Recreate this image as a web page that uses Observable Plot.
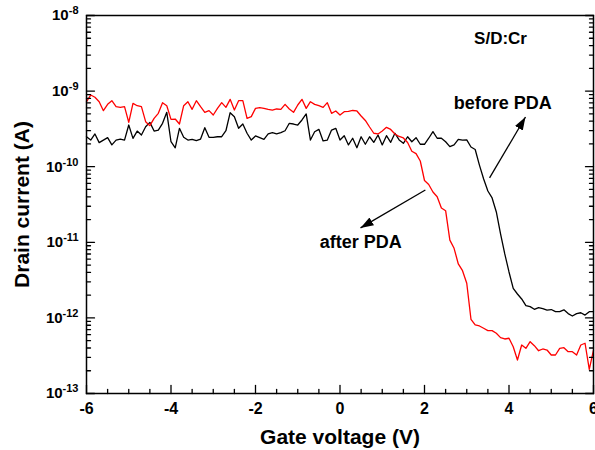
<!DOCTYPE html>
<html><head><meta charset="utf-8">
<script src="https://cdn.jsdelivr.net/npm/d3@7"></script>
<script src="https://cdn.jsdelivr.net/npm/@observablehq/plot@0.6"></script>
<style>body{margin:0;background:#fff}</style>
</head><body><div id="chart"></div>
<script>
const gateVoltage = [
-6,-5.9,-5.8,-5.7,-5.6,-5.5,-5.4,-5.3,-5.2,-5.1,
-5,-4.9,-4.8,-4.7,-4.6,-4.5,-4.4,-4.3,-4.2,-4.1,
-4,-3.9,-3.8,-3.7,-3.6,-3.5,-3.4,-3.3,-3.2,-3.1,
-3,-2.9,-2.8,-2.7,-2.6,-2.5,-2.4,-2.3,-2.2,-2.1,
-2,-1.9,-1.8,-1.7,-1.6,-1.5,-1.4,-1.3,-1.2,-1.1,
-1,-0.9,-0.8,-0.7,-0.6,-0.5,-0.4,-0.3,-0.2,-0.1,
0,0.1,0.2,0.3,0.4,0.5,0.6,0.7,0.8,0.9,
1,1.1,1.2,1.3,1.4,1.5,1.6,1.7,1.8,1.9,
2,2.1,2.2,2.3,2.4,2.5,2.6,2.7,2.8,2.9,
3,3.1,3.2,3.3,3.4,3.5,3.6,3.7,3.8,3.9,
4,4.1,4.2,4.3,4.4,4.5,4.6,4.7,4.8,4.9,
5,5.1,5.2,5.3,5.4,5.5,5.6,5.7,5.8,5.9,
6];

// Drain current before PDA (black), A
const beforePDA = [
2.49e-10,2.25e-10,2.71e-10,2.08e-10,2.25e-10,2.42e-10,1.94e-10,2.25e-10,2.32e-10,2.25e-10,
3.56e-10,2.37e-10,2.96e-10,2.62e-10,3.38e-10,3.86e-10,2.96e-10,3.05e-10,3.75e-10,5.24e-10,
2.14e-10,1.78e-10,3.22e-10,2.45e-10,2.25e-10,2.30e-10,2.21e-10,2.32e-10,3.28e-10,2.45e-10,
2.45e-10,2.49e-10,2.49e-10,2.99e-10,5.18e-10,4.59e-10,3.22e-10,3.67e-10,2.77e-10,2.25e-10,
2.55e-10,2.42e-10,2.30e-10,2.71e-10,2.82e-10,2.71e-10,2.82e-10,2.99e-10,3.75e-10,3.67e-10,
3.56e-10,4.15e-10,4.99e-10,2.25e-10,2.90e-10,3.12e-10,2.19e-10,2.25e-10,3.05e-10,3.22e-10,
2.25e-10,
2.57e-10,1.94e-10,2.38e-10,1.78e-10,2.49e-10,1.98e-10,2.49e-10,2.10e-10,2.63e-10,1.94e-10,
2.57e-10,2.10e-10,2.77e-10,2.26e-10,2.04e-10,2.49e-10,2.14e-10,2.42e-10,1.98e-10,1.98e-10,
2.38e-10,2.91e-10,2.38e-10,2.38e-10,2.14e-10,1.84e-10,1.94e-10,2.30e-10,2.24e-10,2.26e-10,
1.82e-10,1.69e-10,1.05e-10,6.88e-11,4.77e-11,3.86e-11,2.52e-11,1.29e-11,7.01e-12,4.05e-12,
2.46e-12,2.07e-12,1.78e-12,1.45e-12,1.41e-12,1.30e-12,1.37e-12,1.33e-12,1.27e-12,1.29e-12,
1.21e-12,1.21e-12,1.28e-12,1.14e-12,1.06e-12,1.14e-12,1.17e-12,1.09e-12,1.21e-12,1.21e-12];

// Drain current after PDA (red), A
const afterPDA = [
7.24e-10,8.87e-10,8.28e-10,7.24e-10,5.51e-10,6.68e-10,7.46e-10,6.22e-10,6.10e-10,6.22e-10,
3.86e-10,6.88e-10,6.41e-10,6.22e-10,3.94e-10,3.49e-10,4.36e-10,5.08e-10,7.03e-10,6.41e-10,
4.23e-10,4.27e-10,3.67e-10,6.41e-10,7.24e-10,5.74e-10,7.46e-10,6.22e-10,5.24e-10,5.51e-10,
4.83e-10,5.91e-10,7.03e-10,6.10e-10,7.78e-10,5.62e-10,7.46e-10,7.46e-10,4.36e-10,4.59e-10,
5.91e-10,6.04e-10,5.91e-10,5.74e-10,5.62e-10,5.80e-10,5.74e-10,6.68e-10,5.80e-10,5.24e-10,
6.55e-10,7.78e-10,5.91e-10,7.24e-10,6.68e-10,6.41e-10,6.10e-10,7.03e-10,5.08e-10,5.45e-10,
4.83e-10,5.35e-10,
5.38e-10,5.54e-10,5.46e-10,4.69e-10,4.09e-10,3.35e-10,2.77e-10,2.71e-10,2.97e-10,
3.32e-10,3.11e-10,2.71e-10,2.51e-10,2.40e-10,2.09e-10,1.60e-10,1.49e-10,1.19e-10,6.57e-11,
5.82e-11,4.63e-11,4.01e-11,2.84e-11,2.62e-11,1.07e-11,8.33e-12,5.17e-12,4.21e-12,2.87e-12,
9.59e-13,8.06e-13,7.82e-13,7.29e-13,6.78e-13,6.78e-13,6.26e-13,5.48e-13,5.26e-13,5.38e-13,
4.16e-13,2.77e-13,4.38e-13,3.96e-13,4.85e-13,4.29e-13,3.68e-13,3.88e-13,3.76e-13,3.23e-13,
3.23e-13,3.96e-13,4.04e-13,3.57e-13,3.57e-13,3.23e-13,4.38e-13,4.62e-13,2.09e-13,3.76e-13];

const xMajorTicks = [-6, -4, -2, 0, 2, 4, 6];
const xMinorTicks = [-5.5,-5,-4.5,-3.5,-3,-2.5,-1.5,-1,-0.5,0.5,1,1.5,2.5,3,3.5,4.5,5,5.5];
const yDecades = [-13, -12, -11, -10, -9, -8];
const yMinorMantissas = [2, 3, 4, 5, 6, 7, 8, 9];
const seriesNames = ["before PDA", "after PDA"];
const annotationTexts = ["S/D:Cr", "before PDA", "after PDA"];

const yMajorTicks = yDecades.map(e => Math.pow(10, e));
const yMinorTicks = yDecades.slice(0, -1).flatMap(e => yMinorMantissas.map(m => m * Math.pow(10, e)));

const rows = gateVoltage.flatMap((v, i) => [
  {v, I: beforePDA[i], s: seriesNames[0]},
  {v, I: afterPDA[i], s: seriesNames[1]}
]);

const tickShape = {draw(ctx, l) { ctx.moveTo(0, 0); ctx.lineTo(0, -l); }};
const tk = (data, opts) => Plot.vector(data, {anchor: "start", shape: tickShape, stroke: "black", strokeWidth: 1.3, ...opts});

function solidHead(color) {
  const ns = "http://www.w3.org/2000/svg";
  const m = document.createElementNS(ns, "marker");
  m.setAttribute("viewBox", "-13 -5 13 10");
  m.setAttribute("markerWidth", "13");
  m.setAttribute("markerHeight", "10");
  m.setAttribute("markerUnits", "userSpaceOnUse");
  m.setAttribute("orient", "auto");
  m.setAttribute("refX", "0");
  m.setAttribute("refY", "0");
  const p = document.createElementNS(ns, "path");
  p.setAttribute("d", "M-13,-4.5L0,0L-13,4.5Z");
  p.setAttribute("fill", color);
  p.setAttribute("stroke", "none");
  m.appendChild(p);
  return m;
}

const chart = Plot.plot({
  width: 595,
  height: 450,
  marginLeft: 86,
  marginRight: 2,
  marginTop: 15,
  marginBottom: 57,
  style: {fontFamily: "'Liberation Sans', Arial, sans-serif", fontWeight: "bold", fontSize: "14px", background: "white", color: "black", overflow: "visible"},
  x: {domain: [-6, 6]},
  y: {type: "log", domain: [1e-13, 1e-8]},
  color: {domain: seriesNames, range: ["black", "#ff0000"]},
  marks: [
    Plot.line(rows, {x: "v", y: "I", z: "s", stroke: "s", strokeWidth: 1.3}),
    Plot.frame({stroke: "black", strokeWidth: 1.5}),
    tk(xMajorTicks, {x: d => d, y: 1e-13, length: 8, rotate: 0}),
    tk(xMinorTicks, {x: d => d, y: 1e-13, length: 4, rotate: 0}),
    tk(yMajorTicks, {x: -6, y: d => d, length: 8, rotate: 90}),
    tk(yMinorTicks, {x: -6, y: d => d, length: 4, rotate: 90}),
    tk(yMajorTicks, {x: 6, y: d => d, length: 8, rotate: -90}),
    tk(yMinorTicks, {x: 6, y: d => d, length: 4, rotate: -90}),
    Plot.axisX(xMajorTicks, {tickSize: 0, tickPadding: 9, tickFormat: d => String(d), fontSize: 16, label: null}),
    Plot.axisY(yMajorTicks, {tickSize: 0, tickPadding: 8, tickFormat: d => "10^" + Math.round(Math.log10(d)), fontSize: 15, label: null}),
    Plot.text(["Gate voltage (V)"], {frameAnchor: "bottom", lineAnchor: "middle", textAnchor: "middle", dy: 44, fontSize: 21}),
    Plot.text(["Drain current (A)"], {frameAnchor: "left", lineAnchor: "middle", textAnchor: "middle", dx: -64, rotate: -90, fontSize: 21}),
    Plot.text([annotationTexts[0]], {x: 3.8, y: 5e-9, fontSize: 17}),
    Plot.text([annotationTexts[1]], {x: 3.85, y: 6.96e-10, fontSize: 18}),
    Plot.text([annotationTexts[2]], {x: 0.49, y: 1.01e-11, fontSize: 18}),
    Plot.link([0], {x1: 3.54, y1: 7.1e-11, x2: 4.39, y2: 4.54e-10, stroke: "black", strokeWidth: 1.3, markerEnd: solidHead}),
    Plot.link([0], {x1: 2.02, y1: 4.92e-11, x2: 0.485, y2: 1.55e-11, stroke: "black", strokeWidth: 1.3, markerEnd: solidHead})
  ]
});

chart.querySelectorAll('[aria-label="y-axis tick label"] text').forEach(t => {
  const s = t.textContent;
  if (!s.includes("^")) return;
  const [b, e] = s.split("^");
  t.textContent = "";
  const ns = "http://www.w3.org/2000/svg";
  const t1 = document.createElementNS(ns, "tspan");
  t1.textContent = b;
  const t2 = document.createElementNS(ns, "tspan");
  t2.textContent = e;
  t2.setAttribute("font-size", "11");
  t2.setAttribute("dy", "-6");
  t.appendChild(t1);
  t.appendChild(t2);
});

document.getElementById("chart").appendChild(chart);
</script>
</body></html>
